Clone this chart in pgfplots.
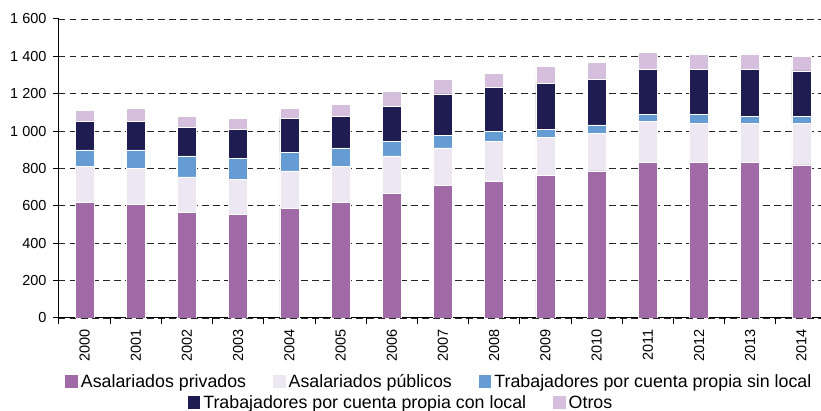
\documentclass[border=0pt]{standalone}
\usepackage{fontspec}
\setmainfont{Liberation Sans}
\usepackage{pgfplots}
\usepackage{pgfplotstable}
\pgfplotsset{compat=1.18}
\definecolor{cpriv}{HTML}{A06AA6}
\definecolor{cpub}{HTML}{EDE6F3}
\definecolor{csin}{HTML}{659CD4}
\definecolor{ccon}{HTML}{1F1C51}
\definecolor{cotr}{HTML}{D5BFDD}
\pgfplotstableread{
x p pub sin con otr
0 620 190 90 154 57
1 608 191 100 155 68
2 564 191 112 155 55
3 553 189 112 156 57
4 585 202 101 179 55
5 620 190 101 166 68
6 665 202 77 189 78
7 710 201 66 222 78
8 731 213 55 234 78
9 765 202 44 245 89
10 787 201 45 244 89
11 831 223 34 244 91
12 831 212 45 244 81
13 831 212 34 255 81
14 820 223 34 245 78
}\data
\pgfplotsset{
  mylegend/.style={
    legend image code/.code={\path[##1,draw=none] (0pt,-6.5pt) rectangle (12.5pt,6.5pt);},
    legend style={draw=none, fill=none, font=\fontsize{17.8}{19}\selectfont,
      inner sep=0pt, anchor=center,
      nodes={inner xsep=3pt, inner ysep=1pt},
      /tikz/every even column/.append style={column sep=24pt}},
    legend cell align=left,
  }
}
\begin{document}
\begin{tikzpicture}
\useasboundingbox (-59pt,-93pt) rectangle (762pt,318pt);
\begin{axis}[
  at={(0pt,0pt)}, anchor=south west,
  scale only axis, width=768pt, height=299pt,
  xmin=-0.5, xmax=14.5, ymin=0, ymax=1600,
  ybar stacked, bar width=19pt,
  axis x line*=bottom, axis y line*=left,
  axis line style={black, line width=1pt},
  tick align=outside, major tick length=6pt,
  tick style={black, line width=1pt},
  xtick={-0.5,0.5,...,14.5}, xticklabels={},
  extra x ticks={0,...,14},
  extra x tick labels={2000,2001,2002,2003,2004,2005,2006,2007,2008,2009,2010,2011,2012,2013,2014},
  extra x tick style={major tick length=0pt,
     tick label style={rotate=90, anchor=east, yshift=0pt, xshift=-8pt}},
  ytick={0,200,...,1600},
  yticklabels={0,200,400,600,800,{1 000},{1 200},{1 400},{1 600}},
  yticklabel style={xshift=-3pt},
  tick label style={font=\fontsize{14.5}{14.5}\selectfont},
  ymajorgrids,
  grid style={black!85, line width=0.9pt, dash pattern=on 6.5pt off 4.5pt},
  mylegend,
  legend columns=3,
  legend style={at={(0.496,-0.214)}},
]
\addplot[fill=cpriv, draw=white, line width=0.5pt] table[x=x,y=p]{\data};
\addlegendentry{Asalariados privados}
\addplot[fill=cpub, draw=white, line width=0.5pt] table[x=x,y=pub]{\data};
\addlegendentry{Asalariados públicos}
\addplot[fill=csin, draw=white, line width=0.5pt] table[x=x,y=sin]{\data};
\addlegendentry{Trabajadores por cuenta propia sin local}
\addplot[fill=ccon, draw=white, line width=0.5pt] table[x=x,y=con]{\data};
\addplot[fill=cotr, draw=white, line width=0.5pt] table[x=x,y=otr]{\data};
\end{axis}
\begin{axis}[
  at={(0pt,0pt)}, anchor=south west,
  scale only axis, width=768pt, height=299pt,
  hide axis, xmin=0, xmax=1, ymin=0, ymax=1,
  mylegend,
  legend columns=2,
  legend style={at={(0.446,-0.283)}},
]
\addlegendimage{fill=ccon}
\addlegendentry{Trabajadores por cuenta propia con local}
\addlegendimage{fill=cotr}
\addlegendentry{Otros}
\end{axis}
\end{tikzpicture}
\end{document}
